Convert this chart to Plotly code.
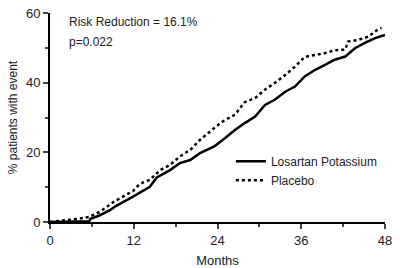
import plotly.graph_objects as go

# Placebo (dotted)
placebo_months = [0, 1.4, 2.9, 4.3, 5.7, 7.2, 9.3, 10.5, 11.9, 12.9, 14.3, 15.8, 17.2,
                  18.6, 20.1, 21.5, 22.9, 24.4, 25.1, 26.5, 27.9, 29.4, 30.8, 32.2, 33.7,
                  35.1, 36.5, 38.0, 39.4, 40.8, 42.3, 42.7, 44.2, 45.6, 47.0, 47.5]
placebo_pct = [0, 0.3, 0.6, 1.0, 1.5, 3.0, 6.0, 7.3, 8.9, 11.0, 12.1, 14.9, 16.4,
               18.8, 20.7, 23.6, 26.0, 28.4, 29.3, 30.8, 34.4, 35.6, 38.0, 39.9, 42.2,
               44.6, 47.4, 48.0, 48.5, 49.3, 49.5, 51.8, 52.3, 53.2, 55.3, 55.7]

# Losartan Potassium (solid)
losartan_months = [0, 3, 5.6, 5.8, 7.0, 8.6, 9.3, 11.9, 14.3, 15.3, 17.2, 18.6, 20.1,
                   21.5, 22.9, 23.6, 25.1, 26.5, 27.9, 29.4, 30.8, 32.2, 33.7, 35.1,
                   36.5, 38.0, 39.4, 40.8, 42.3, 43.7, 45.1, 46.6, 48.0]
losartan_pct = [0, 0.1, 0.2, 0.9, 1.8, 3.4, 4.4, 7.3, 10.1, 12.8, 14.9, 16.9, 17.8,
                19.8, 21.2, 21.8, 24.1, 26.4, 28.4, 30.3, 33.6, 35.1, 37.4, 38.9,
                41.8, 43.7, 45.1, 46.6, 47.5, 49.9, 51.4, 52.8, 53.7]

x_ticks = [0, 12, 24, 36, 48]
y_ticks = [0, 20, 40, 60]

fig = go.Figure()
fig.add_trace(go.Scatter(x=losartan_months, y=losartan_pct, mode="lines",
                         name="Losartan Potassium", cliponaxis=False,
                         line=dict(color="black", width=2.5)))
fig.add_trace(go.Scatter(x=placebo_months, y=placebo_pct, mode="lines",
                         name="Placebo", cliponaxis=False,
                         line=dict(color="black", width=2.5, dash="dot")))

font = dict(family="Liberation Sans, Arial, sans-serif", size=12, color="#222")

fig.update_layout(
    width=400, height=268,
    margin=dict(l=50, r=15, t=13, b=46),
    paper_bgcolor="white", plot_bgcolor="white",
    font=font,
    showlegend=True,
    legend=dict(x=0.54, y=0.36, xanchor="left", yanchor="top",
                bgcolor="rgba(0,0,0,0)", font=dict(size=12, color="#222"),
                tracegroupgap=0, itemwidth=30),
    annotations=[
        dict(text="Risk Reduction = 16.1%", x=0.05, y=0.955, xref="paper", yref="paper",
             xanchor="left", yanchor="middle", showarrow=False, font=dict(size=12, color="#222")),
        dict(text="p=0.022", x=0.05, y=0.86, xref="paper", yref="paper",
             xanchor="left", yanchor="middle", showarrow=False, font=dict(size=12, color="#222")),
    ],
)

fig.update_xaxes(range=[0, 48], tickvals=x_ticks, ticks="outside", ticklen=5, tickwidth=1.5,
                 showline=True, linecolor="black", linewidth=2, showgrid=False, zeroline=False,
                 automargin=False,
                 tickfont=dict(size=13, color="#222"),
                 minor=dict(dtick=6, ticks="outside", ticklen=3, tickwidth=1.5, showgrid=False),
                 title=dict(text="Months", font=dict(size=13, color="#222"), standoff=10))
fig.update_yaxes(range=[0, 60], tickvals=y_ticks, ticks="outside", ticklen=5, tickwidth=1.5,
                 showline=True, linecolor="black", linewidth=2, showgrid=False, zeroline=False,
                 automargin=False,
                 tickfont=dict(size=13, color="#222"),
                 minor=dict(dtick=10, ticks="outside", ticklen=3, tickwidth=1.5, showgrid=False),
                 title=dict(text="% patients with event", font=dict(size=12, color="#222"), standoff=6))

fig.write_html("out.html")
